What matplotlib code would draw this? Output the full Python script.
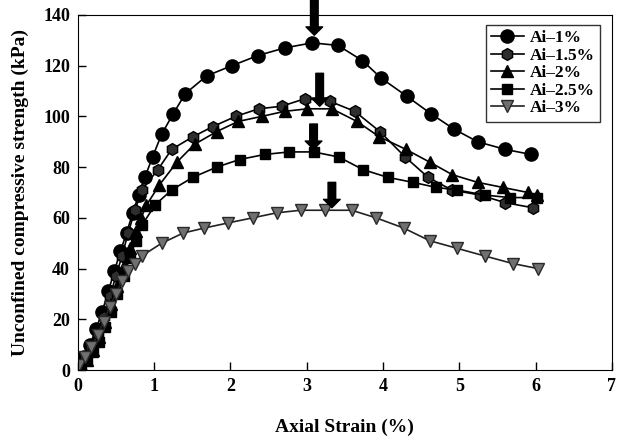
import matplotlib
matplotlib.use('Agg')
import matplotlib.pyplot as plt

plt.rcParams['font.family'] = ['Liberation Serif', 'DejaVu Serif']
plt.rcParams['font.weight'] = 'bold'

# Ai-1%
x1 = [0.0, 0.08, 0.16, 0.24, 0.32, 0.40, 0.48, 0.56, 0.64, 0.72, 0.80, 0.88, 0.98, 1.10, 1.25,
      1.41, 1.69, 2.02, 2.36, 2.71, 3.07, 3.41, 3.73, 3.98, 4.31, 4.63, 4.93, 5.24, 5.60, 5.94]
y1 = [2, 5, 10, 16, 23, 31, 39, 47, 54, 62, 69, 76, 84, 93, 101,
      109, 116, 120, 124, 127, 129, 128, 122, 115, 108, 101, 95, 90, 87, 85]
# Ai-1.5%
x15 = [0.02, 0.10, 0.18, 0.26, 0.34, 0.42, 0.50, 0.58, 0.66, 0.75, 0.84, 1.05, 1.23, 1.51, 1.77,
       2.07, 2.37, 2.67, 2.98, 3.30, 3.63, 3.96, 4.29, 4.59, 4.90, 5.27, 5.60, 5.96]
y15 = [2, 5, 9, 14, 21, 29, 37, 45, 54, 63, 71, 79, 87, 92, 96,
       100, 103, 104, 107, 106, 102, 94, 84, 76, 71, 69, 66, 64]
# Ai-2%
x2 = [0.04, 0.12, 0.20, 0.28, 0.36, 0.44, 0.52, 0.60, 0.68, 0.76, 0.83, 0.90, 1.07, 1.30, 1.53,
      1.82, 2.10, 2.41, 2.71, 3.01, 3.33, 3.66, 3.95, 4.30, 4.61, 4.91, 5.24, 5.57, 5.90, 6.02]
y2 = [2, 4, 8, 13, 19, 26, 33, 41, 48, 55, 60, 65, 73, 82, 89,
      94, 98, 100, 102, 103, 103, 98, 92, 87, 82, 77, 74, 72, 70, 69]
# Ai-2.5%
x25 = [0.04, 0.12, 0.20, 0.28, 0.36, 0.44, 0.52, 0.60, 0.68, 0.76, 0.84, 1.01, 1.23, 1.51, 1.82,
       2.12, 2.45, 2.77, 3.09, 3.42, 3.74, 4.06, 4.39, 4.70, 4.97, 5.33, 5.66, 6.02]
y25 = [2, 4, 7, 11, 17, 23, 30, 37, 44, 51, 57, 65, 71, 76, 80,
       83, 85, 86, 86, 84, 79, 76, 74, 72, 71, 69, 68, 68]
# Ai-3%
x3 = [0.02, 0.10, 0.18, 0.26, 0.34, 0.42, 0.50, 0.58, 0.66, 0.75, 0.84, 1.10, 1.38, 1.66,
      1.97, 2.29, 2.61, 2.92, 3.24, 3.59, 3.91, 4.27, 4.61, 4.97, 5.33, 5.70, 6.03]
y3 = [2, 5, 9, 14, 19, 25, 30, 35, 39, 42, 45, 50, 54, 56,
      58, 60, 62, 63, 63, 63, 60, 56, 51, 48, 45, 42, 40]

labels = ['Ai\u20131%', 'Ai\u20131.5%', 'Ai\u20132%', 'Ai\u20132.5%', 'Ai\u20133%']

# peak arrows: x, top, tip
arrow_x = [3.10, 3.17, 3.09, 3.33]
arrow_top = [148, 117, 97, 74]
arrow_tip = [132, 104, 87, 64]

fig = plt.figure(figsize=(6.27, 4.4), dpi=100)
ax = fig.add_axes([0.124, 0.159, 0.852, 0.807])

ax.plot(x1, y1, color='black', lw=1.2, marker='o', ms=9.5, mfc='black', mec='black', label=labels[0])
ax.plot(x15, y15, color='black', lw=1.2, marker='h', ms=8.5, mfc='#2e2e2e', mec='black', label=labels[1])
ax.plot(x2, y2, color='black', lw=1.2, marker='^', ms=8.5, mfc='black', mec='black', label=labels[2])
ax.plot(x25, y25, color='black', lw=1.2, marker='s', ms=7.5, mfc='black', mec='black', label=labels[3])
ax.plot(x3, y3, color='#222222', lw=1.2, marker='v', ms=8.5, mfc='#707070', mec='#2a2a2a', label=labels[4])

for xa, top, tip in zip(arrow_x, arrow_top, arrow_tip):
    ax.annotate('', xy=(xa, tip), xytext=(xa, top), annotation_clip=False,
                arrowprops=dict(arrowstyle='simple,head_width=1.2,head_length=0.6,tail_width=0.55',
                                color='black', shrinkA=0, shrinkB=0))

ax.set_xlim(0, 7)
ax.set_ylim(0, 140)
ax.set_xticks(range(0, 8))
ax.set_yticks(range(0, 141, 20))
ax.tick_params(direction='in', length=6, width=1, labelsize=13, pad=5.5)
for lab in ax.get_xticklabels() + ax.get_yticklabels():
    lab.set_fontweight('bold')

ax.set_xlabel('Axial Strain (%)', fontsize=14, fontweight='bold')
ax.set_ylabel('Unconfined compressive strength (kPa)', fontsize=14, fontweight='bold')
ax.xaxis.set_label_coords(0.5, -0.138)
ax.yaxis.set_label_coords(-0.092, 0.5)

leg = ax.legend(loc='upper right', bbox_to_anchor=(0.978, 0.972), borderaxespad=0,
                prop={'size': 12.5, 'weight': 'bold'}, frameon=True,
                fancybox=False, edgecolor='black', handlelength=1.9, labelspacing=0.08,
                borderpad=0.3, handletextpad=0.35)
leg.get_frame().set_linewidth(1.0)

fig.savefig('out.png', dpi=100)
